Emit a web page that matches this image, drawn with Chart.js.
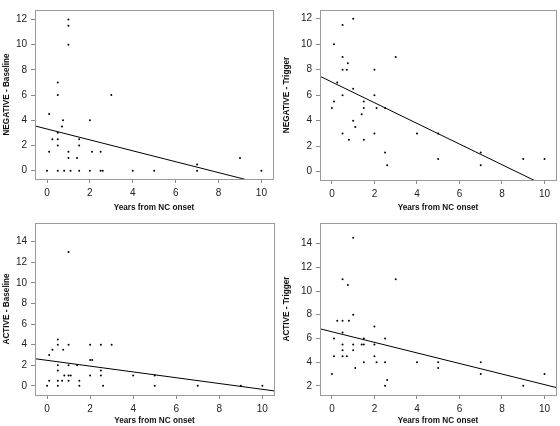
<!DOCTYPE html>
<html>
<head>
<meta charset="utf-8">
<script src="https://cdn.jsdelivr.net/npm/chart.js@4.4.1/dist/chart.umd.min.js"></script>
<style>
html, body { margin: 0; padding: 0; background: #fff; }
.panel { position: absolute; width: 280px; height: 213px; }
</style>
</head>
<body>
<div class="panel" style="left:0;top:0"><canvas id="c1" width="280" height="213"></canvas></div>
<div class="panel" style="left:280px;top:0"><canvas id="c2" width="280" height="213"></canvas></div>
<div class="panel" style="left:0;top:213px"><canvas id="c3" width="280" height="213"></canvas></div>
<div class="panel" style="left:280px;top:213px"><canvas id="c4" width="280" height="213"></canvas></div>
<script>
// tick labels
const xTicks = [0, 2, 4, 6, 8, 10];
const yTicksNeg = [0, 2, 4, 6, 8, 10, 12];
const yTicksActBase = [0, 2, 4, 6, 8, 10, 12, 14];
const yTicksActTrig = [2, 4, 6, 8, 10, 12, 14];

// regression line end points (x)
const fitX = [-1, 11];

// NEGATIVE - Baseline
const negBaseX = [0,0.1,0.1,0.25,0.5,0.5,0.5,0.5,0.5,0.5,0.7,0.75,0.8,1,1,1,1,1,1.1,1.4,1.5,1.5,1.5,2,2,2.1,2.5,2.5,2.6,3,4,5,7,7,9,10];
const negBaseY = [0,1.5,4.5,2.5,7,6,3,2.5,2,0,3.5,4,0,12,11.5,10,1.5,1,0,1,2.5,2,0,4,0,1.5,1.5,0,0,6,0,0,0.5,0,1,0];
const negBaseFit = [3.74, -1.45];

// NEGATIVE - Trigger
const negTrigX = [0,0.1,0.1,0.25,0.5,0.5,0.5,0.5,0.5,0.7,0.75,0.8,1,1,1,1.1,1.4,1.5,1.5,1.5,2,2,2,2.1,2.5,2.5,2.6,3,4,5,5,7,7,9,10];
const negTrigY = [5,5.5,10,7,11.5,9,8,6,3,8,8.5,2.5,12,6.5,4,3.5,4.5,5.5,5,2.5,8,6,3,5,5,1.5,0.5,9,3,3,1,1.5,0.5,1,1];
const negTrigFit = [7.84, -1.88];

// ACTIVE - Baseline
const actBaseX = [0,0.1,0.1,0.25,0.5,0.5,0.5,0.5,0.5,0.5,0.7,0.75,0.8,1,1,1,1,1,1.1,1.4,1.5,1.5,2,2,2.1,2,2.5,2.5,2.5,2.6,3,4,5,5,7,9,10];
const actBaseY = [0,3,0.5,3.5,4.5,4,2,1.5,0.5,0,0.5,3.5,1,13,4,2,1,0.5,1,2,0.5,0,4,2.5,2.5,1,4,1.5,1,0,4,1,1,0,0,0,0];
const actBaseFit = [2.76, -0.62];

// ACTIVE - Trigger
const actTrigX = [0,0.1,0.1,0.25,0.5,0.5,0.5,0.5,0.5,0.5,0.7,0.75,0.8,1,1,1,1,1.1,1.4,1.5,1.5,1.5,2,2,2,2.1,2.5,2.5,2.5,2.6,3,4,5,5,7,7,9,10];
const actTrigY = [3,6,4.5,7.5,11,7.5,6.5,5.5,5,4.5,4.5,10.5,7.5,14.5,8,5.5,5,3.5,5.5,6,5.5,4,7,5.5,4.5,4,6,4,2,2.5,11,4,4,3.5,4,3,2,3];
const actTrigFit = [7.01, 1.66];

const FONT = 'Arial, "Liberation Sans", sans-serif';

// grey box round the plot area
const framePlugin = {
    id: 'frame',
    afterDraw(chart) {
        const a = chart.chartArea;
        const ctx = chart.ctx;
        ctx.save();
        ctx.strokeStyle = '#9a9a9a';
        ctx.lineWidth = 1;
        ctx.strokeRect(Math.round(a.left) + 0.5, Math.round(a.top) + 0.5,
            Math.round(a.right - a.left), Math.round(a.bottom - a.top));
        ctx.restore();
    }
};

function makeChart(id, p) {
    const pts = p.xs.map((x, i) => ({ x: x, y: p.ys[i] }));
    const line = fitX.map((x, i) => ({ x: x, y: p.fit[i] }));
    return new Chart(document.getElementById(id), {
        type: 'scatter',
        data: {
            datasets: [
                {
                    data: pts,
                    pointRadius: 1,
                    pointBorderWidth: 0,
                    pointBackgroundColor: '#000',
                    borderColor: '#000'
                },
                {
                    type: 'line',
                    data: line,
                    borderColor: '#000',
                    borderWidth: 1,
                    pointRadius: 0,
                    fill: false
                }
            ]
        },
        options: {
            responsive: false,
            animation: false,
            events: [],
            layout: { padding: { top: p.top, right: p.right, left: 0, bottom: 0 } },
            plugins: { legend: { display: false }, tooltip: { enabled: false } },
            scales: {
                x: {
                    type: 'linear',
                    min: -0.56,
                    max: 10.54,
                    afterFit: s => { s.height = p.xh; },
                    afterBuildTicks: s => { s.ticks = xTicks.map(v => ({ value: v })); },
                    grid: { drawOnChartArea: false, drawTicks: true, tickLength: 4, color: '#8a8a8a' },
                    border: { display: false },
                    ticks: { color: '#222', font: { family: FONT, size: 10 }, padding: 4, maxRotation: 0 },
                    title: {
                        display: true,
                        text: 'Years from NC onset',
                        color: '#111',
                        font: { family: FONT, size: 8.2, weight: 'bold' },
                        padding: { top: 0, bottom: 0 }
                    }
                },
                y: {
                    type: 'linear',
                    min: p.ymin,
                    max: p.ymax,
                    afterFit: s => { s.width = p.yw; },
                    afterBuildTicks: s => { s.ticks = p.yTicks.map(v => ({ value: v })); },
                    grid: { drawOnChartArea: false, drawTicks: true, tickLength: 4, color: '#8a8a8a' },
                    border: { display: false },
                    ticks: { color: '#222', font: { family: FONT, size: 10 }, padding: 4 },
                    title: {
                        display: true,
                        text: p.title,
                        color: '#111',
                        font: { family: FONT, size: 8.2, weight: 'bold' },
                        padding: { top: 2, bottom: 0 }
                    }
                }
            }
        },
        plugins: [framePlugin]
    });
}

makeChart('c1', { xs: negBaseX, ys: negBaseY, fit: negBaseFit, title: 'NEGATIVE - Baseline',
    yTicks: yTicksNeg, ymin: -0.66, ymax: 12.75, top: 1, right: 7, yw: 35, xh: 34 });
makeChart('c2', { xs: negTrigX, ys: negTrigY, fit: negTrigFit, title: 'NEGATIVE - Trigger',
    yTicks: yTicksNeg, ymin: -0.65, ymax: 12.68, top: 3, right: 3, yw: 40, xh: 33 });
makeChart('c3', { xs: actBaseX, ys: actBaseY, fit: actBaseFit, title: 'ACTIVE - Baseline',
    yTicks: yTicksActBase, ymin: -0.89, ymax: 15.82, top: 5, right: 6, yw: 35, xh: 31 });
makeChart('c4', { xs: actTrigX, ys: actTrigY, fit: actTrigFit, title: 'ACTIVE - Trigger',
    yTicks: yTicksActTrig, ymin: 1.23, ymax: 15.74, top: 4, right: 3, yw: 40, xh: 31 });
</script>
</body>
</html>
